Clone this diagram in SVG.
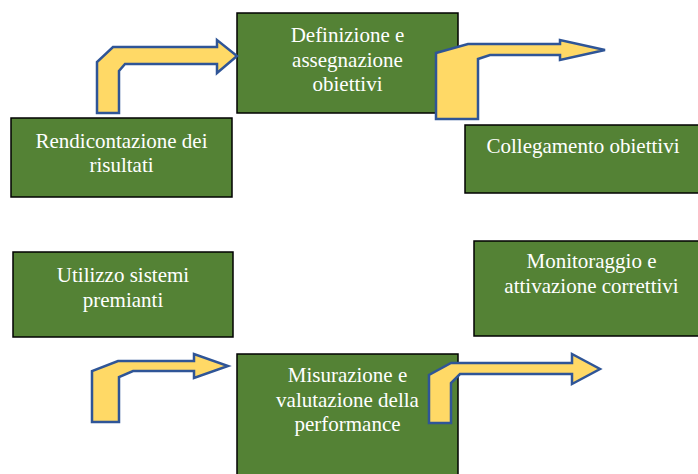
<svg xmlns="http://www.w3.org/2000/svg" width="698" height="474" viewBox="0 0 698 474">
<style>
.box{fill:#548235;stroke:#000;stroke-width:1.5}
.t{font-family:"Liberation Serif","Times New Roman",serif;font-size:21px;fill:#fff;text-anchor:middle}
.arr{fill:#FFD966;stroke:#2F5597;stroke-width:2.5;stroke-linejoin:miter}
</style>
<rect width="698" height="474" fill="#fff"/>
<g id="rendicontazione">
<rect class="box" x="11" y="118" width="221" height="79"/>
<text class="t" x="121.5" y="148">Rendicontazione dei</text>
<text class="t" x="121.5" y="172">risultati</text>
</g>
<g id="definizione">
<rect class="box" x="237" y="13" width="221" height="100"/>
<text class="t" x="347.5" y="42">Definizione e</text>
<text class="t" x="347.5" y="67">assegnazione</text>
<text class="t" x="347.5" y="91">obiettivi</text>
</g>
<g id="collegamento">
<rect class="box" x="465" y="125" width="236" height="68"/>
<text class="t" x="583" y="153">Collegamento obiettivi</text>
</g>
<g id="utilizzo">
<rect class="box" x="13" y="252" width="220" height="85"/>
<text class="t" x="123" y="282">Utilizzo sistemi</text>
<text class="t" x="123" y="307">premianti</text>
</g>
<g id="monitoraggio">
<rect class="box" x="474" y="241" width="235" height="95"/>
<text class="t" x="591.5" y="268">Monitoraggio e</text>
<text class="t" x="591.5" y="293">attivazione correttivi</text>
</g>
<g id="misurazione">
<rect class="box" x="237" y="354" width="221" height="130"/>
<text class="t" x="347.5" y="382">Misurazione e</text>
<text class="t" x="347.5" y="407">valutazione della</text>
<text class="t" x="347.5" y="431">performance</text>
</g>
<g id="connectors">
<path class="arr" d="M97,113 L97,62 L113,47 L217,47 L217,40 L237,56 L217,73 L217,64 L125,64 L119,71 L119,113 Z"/>
<path class="arr" d="M436,119 L436,53 L468,44 L560,44 L560,40 L605,50 L560,60 L560,55 L490,55 L478,59 L478,119 Z"/>
<path class="arr" d="M92,422 L92,371 L118,361 L194,361 L194,354 L228,366 L194,378 L194,371 L133,371 L119,377 L119,422 Z"/>
<path class="arr" d="M429,423 L429,375 L451,363 L572,363 L572,354 L600,369 L572,384 L572,374 L460,374 L451,383 L451,423 Z"/>
</g>
</svg>
